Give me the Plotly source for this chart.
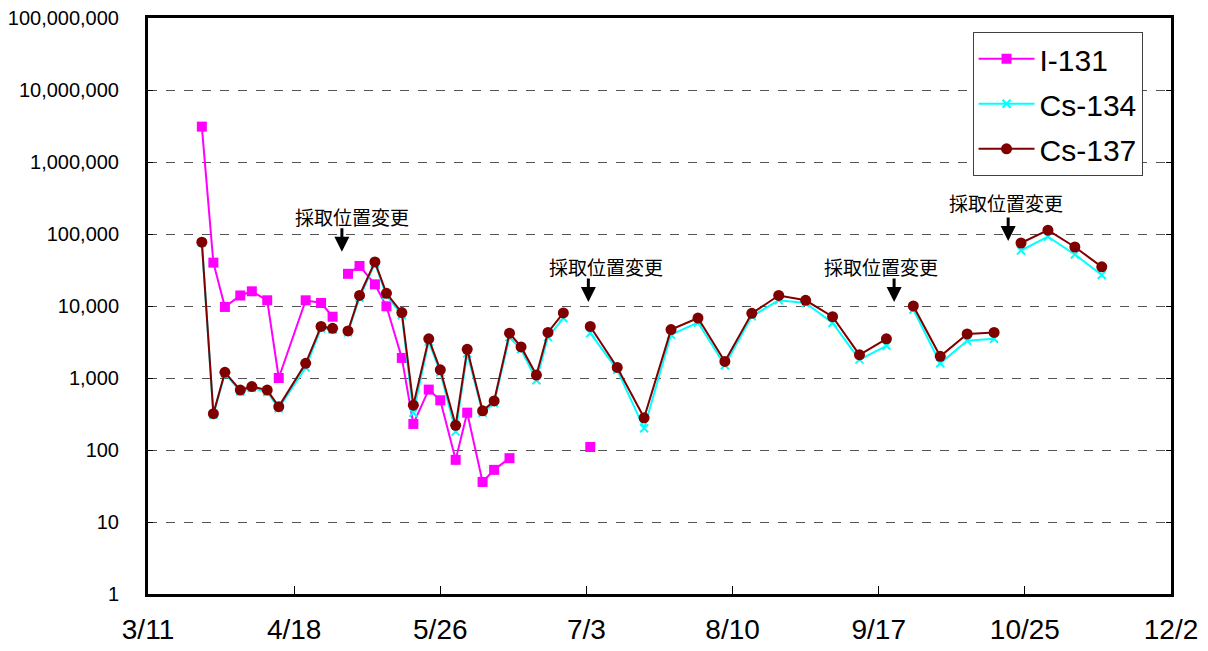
import plotly.graph_objects as go
import pandas as pd

YEAR = 2011

# Sampling dates (month/day) and activity concentrations
dates = ["3/25", "3/28", "3/31", "4/4", "4/7", "4/11", "4/14", "4/21", "4/25", "4/28",
         "5/2", "5/5", "5/9", "5/12", "5/16", "5/19", "5/23", "5/26", "5/30", "6/2",
         "6/6", "6/9", "6/13", "6/16", "6/20", "6/23", "6/27",
         "7/4", "7/11", "7/18", "7/25", "8/1", "8/8", "8/15", "8/22", "8/29", "9/5",
         "9/12", "9/19",
         "9/26", "10/3", "10/10", "10/17",
         "10/24", "10/31", "11/7", "11/14"]

i131 = [3100000, 40000, 9700, 14000, 16000, 12000, 1000, 12000, 11000, 7100,
        28000, 36000, 20000, 9900, 1900, 230, 690, 490, 73, 330,
        36, 53, 77, None, None, None, None,
        110, None, None, None, None, None, None, None, None, None,
        None, None,
        None, None, None, None,
        None, None, None, None]

cs134 = [76000, 310, 1150, 650, 730, 640, 380, 1400, 4900, 4700,
         4300, 13000, 39000, 14000, 7500, 330, 3200, 1200, 180, 2200,
         330, 450, 3700, 2500, 930, 3700, 6800,
         4200, 1300, 200, 4000, 5900, 1500, 7200, 12000, 11000, 5800,
         1800, 2800,
         8900, 1600, 3300, 3500,
         59000, 92000, 52000, 27000]

cs137 = [77000, 320, 1200, 680, 760, 680, 400, 1600, 5200, 4900,
         4500, 14000, 41000, 15000, 8100, 420, 3500, 1300, 220, 2500,
         350, 480, 4200, 2700, 1100, 4300, 8000,
         5200, 1400, 280, 4700, 6800, 1700, 7900, 14000, 12000, 7100,
         2100, 3500,
         10000, 2000, 4100, 4300,
         75000, 113000, 66000, 35000]

# Sampling-location changes (the lines are broken there)
relocations = ["2011-04-30 10:00", "2011-07-03 12:00", "2011-09-21 00:00", "2011-10-20 16:00"]
relocation_label = "採取位置変更"

# x-axis ticks
tick_labels = ["3/11", "4/18", "5/26", "7/3", "8/10", "9/17", "10/25", "12/2"]
y_ticks = [1, 10, 100, 1000, 10000, 100000, 1000000, 10000000, 100000000]


def to_date(md):
    m, d = md.split("/")
    return pd.Timestamp(YEAR, int(m), int(d))


df = pd.DataFrame({"date": [to_date(s) for s in dates],
                   "I-131": i131, "Cs-134": cs134, "Cs-137": cs137})
breaks = pd.DataFrame({"date": pd.to_datetime(relocations)})
df = pd.concat([df, breaks], ignore_index=True).sort_values("date")
df = df.astype(object).where(pd.notnull(df), None)

series = [
    ("I-131", "#FF00FF", dict(symbol="square", size=10, color="#FF00FF")),
    ("Cs-134", "#00FFFF", dict(symbol="x-thin", size=8, color="#00FFFF",
                              line=dict(color="#00FFFF", width=2))),
    ("Cs-137", "#800000", dict(symbol="circle", size=11, color="#800000")),
]

fig = go.Figure()
for name, color, marker in series:
    fig.add_trace(go.Scatter(
        x=list(df["date"]), y=list(df[name]), name=name, mode="lines+markers",
        line=dict(color=color, width=2), marker=marker,
        connectgaps=False, legendgroup=name,
    ))

tick_dates = [to_date(s) for s in tick_labels]

fig.update_xaxes(
    type="date", range=[tick_dates[0], tick_dates[-1]],
    tickvals=tick_dates, ticktext=tick_labels,
    ticks="inside", ticklen=8, tickcolor="black", tickwidth=1,
    showline=True, linecolor="black", linewidth=3, mirror=True,
    showgrid=False, zeroline=False, automargin=False,
    tickfont=dict(family="Liberation Sans", size=28, color="black"),
    ticklabelstandoff=8,
)
fig.update_yaxes(
    type="log", range=[0, 8],
    tickvals=y_ticks, ticktext=[f"{v:,}" for v in y_ticks],
    ticks="inside", ticklen=5, tickcolor="black", tickwidth=1,
    showline=True, linecolor="black", linewidth=3, mirror="ticks",
    showgrid=True, gridcolor="#555555", gridwidth=1, griddash="dash",
    zeroline=False, automargin=False,
    tickfont=dict(family="Liberation Sans", size=20, color="black"),
    ticklabelstandoff=22,
)

# relocation notes: label plus a short downward arrow
arrow_tips = [0.594, 0.507, 0.507, 0.613]
label_y = [0.656, 0.568, 0.568, 0.679]
label_shift = [10, 18, -13, -2]
for x, tip, ly, sh in zip(relocations, arrow_tips, label_y, label_shift):
    fig.add_annotation(x=x, y=tip, xref="x", yref="paper", text="",
                       showarrow=True, ax=0, ay=-25, arrowhead=2, arrowsize=1,
                       arrowwidth=3, arrowcolor="black", standoff=0, startstandoff=0)
    fig.add_annotation(x=x, y=ly, xref="x", yref="paper", text=relocation_label,
                       showarrow=False, xshift=sh, yanchor="middle",
                       font=dict(family="Noto Sans CJK JP", size=19, color="black"))

fig.update_layout(
    width=1208, height=651,
    margin=dict(l=148, r=37, t=18, b=57),
    paper_bgcolor="white", plot_bgcolor="white",
    showlegend=True,
    legend=dict(x=0.806, y=0.976, xanchor="left", yanchor="top",
                bgcolor="white", bordercolor="#404040", borderwidth=1,
                font=dict(family="Liberation Sans", size=30, color="black"),
                tracegroupgap=3, itemwidth=56),
)

fig.write_html("out.html")
